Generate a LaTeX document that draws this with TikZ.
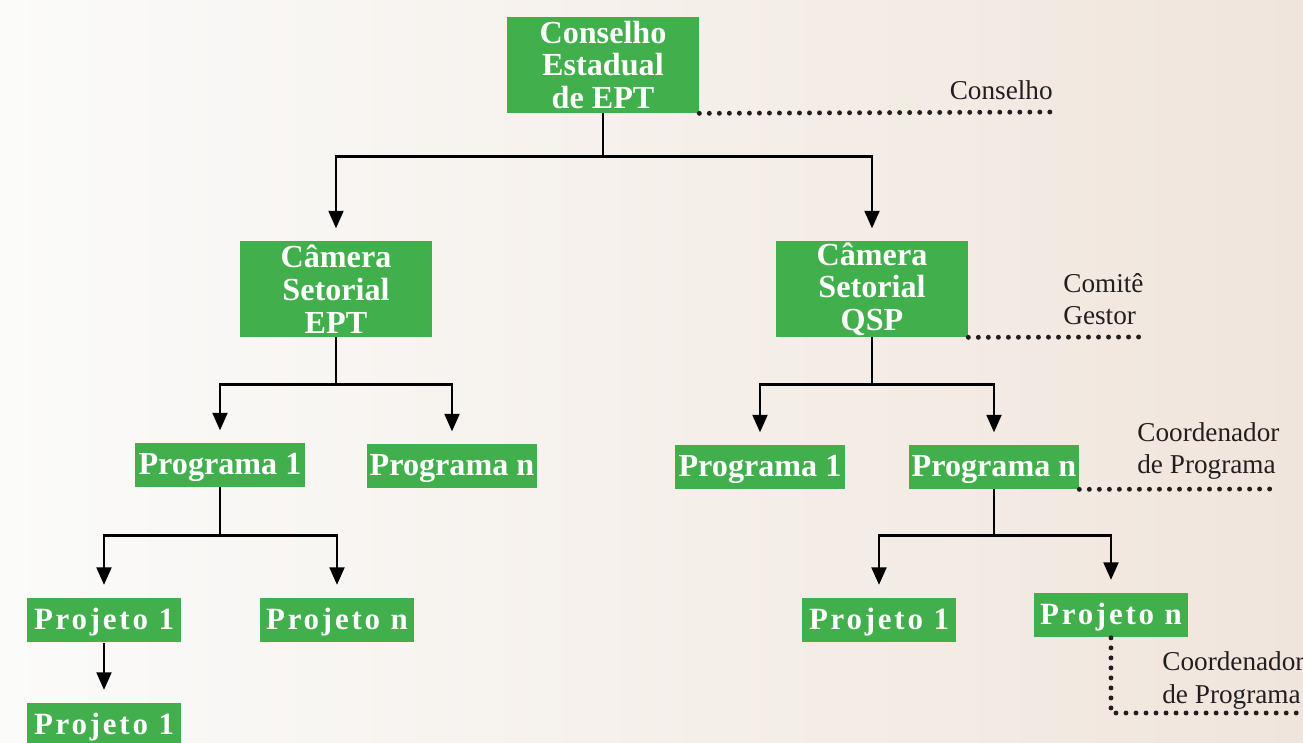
\documentclass[tikz,border=0pt]{standalone}
\usepackage{fontspec}
\setmainfont{Liberation Serif}
\newfontfamily\spacedfont[LetterSpace=9]{Liberation Serif}
\usetikzlibrary{arrows.meta,positioning}

\definecolor{boxgreen}{RGB}{65,175,75}
\definecolor{bgleft}{RGB}{251,251,250}
\definecolor{bgright}{RGB}{240,229,220}
\definecolor{notegray}{RGB}{35,31,32}

\tikzset{
  chamber/.style={fill=boxgreen, text=white, font=\fontsize{18.3}{18.6}\selectfont\bfseries,
    align=center, minimum width=3.84cm, minimum height=1.92cm, inner sep=0pt},
  prog/.style={fill=boxgreen, text=white, font=\fontsize{18.3}{18}\selectfont\bfseries,
    minimum width=3.4cm, minimum height=0.88cm, inner sep=0pt, text depth=1pt},
  proj/.style={prog, font=\spacedfont\fontsize{17.6}{18}\selectfont\bfseries,
    minimum width=3.1cm, minimum height=0.9cm},
  arr/.style={-{Triangle[length=10pt,width=8.5pt]}, line width=1.4pt, shorten >=7pt},
  stem/.style={line width=1.4pt},
  dots/.style={notegray, line width=2.8pt, line cap=round, dash pattern=on 0pt off 5.7pt},
  note/.style={font=\fontsize{15.5}{18.5}\selectfont, align=left, text=notegray, inner sep=0pt}
}

\begin{document}
\begin{tikzpicture}[x=0.02cm, y=-0.02cm]
  % background
  \shade[left color=bgleft, right color=bgright] (0,0) rectangle (1303,743);
  \useasboundingbox (0,0) rectangle (1303,743);
  \clip (0,0) rectangle (1303,743);

  % boxes
  \node[chamber] (ce) at (603,65) {Conselho\\Estadual\\de EPT};
  \node[chamber] (cept) at (336,289) {Câmera\\Setorial\\EPT};
  \node[chamber] (cqsp) at (872,289) {Câmera\\Setorial\\QSP};
  \node[prog] (ep1) at (220,465) {Programa 1};
  \node[prog] (epn) at (452,466) {Programa n};
  \node[prog] (qp1) at (760,467) {Programa 1};
  \node[prog] (qpn) at (994,467) {Programa n};
  \node[proj] (ej1) at (104,620) {Projeto 1};
  \node[proj] (ejn) at (337,620) {Projeto n};
  \node[proj] (ej1b) at (104,725) {Projeto 1};
  \node[proj] (qj1) at (879,620) {Projeto 1};
  \node[proj] (qjn) at (1111,615) {Projeto n};

  % tree connectors
  \draw[stem] (ce.south) -- ++(0,43) coordinate (jce);
  \foreach \c in {cept,cqsp} \draw[arr] (jce) -| (\c.north);
  \draw[stem] (cept.south) -- ++(0,47) coordinate (jcept);
  \foreach \c in {ep1,epn} \draw[arr] (jcept) -| (\c.north);
  \draw[stem] (cqsp.south) -- ++(0,47) coordinate (jcqsp);
  \foreach \c in {qp1,qpn} \draw[arr] (jcqsp) -| (\c.north);
  \draw[stem] (ep1.south) -- ++(0,48) coordinate (jep1);
  \foreach \c in {ej1,ejn} \draw[arr] (jep1) -| (\c.north);
  \draw[stem] (qpn.south) -- ++(0,46) coordinate (jqpn);
  \foreach \c in {qj1,qjn} \draw[arr] (jqpn) -| (\c.north);
  \draw[arr] (ej1) -- (ej1b);

  % dotted notes
  \coordinate (dce) at (1055,112);
  \coordinate (dgc) at (1143,337);
  \coordinate (dqp) at (1276,489);
  \coordinate (dqj) at (1320,713);
  \draw[dots] (ce.south east) -- (dce);
  \draw[dots] (cqsp.south east) -- (dgc);
  \draw[dots] (qpn.south east) -- (dqp);
  \draw[dots] (qjn.south) -- (qjn.south |- dqj) -- (dqj);
  \node[note, anchor=base east] (nce) at (1053,100) {Conselho};
  \node[note, anchor=base west] (ngc) at (1063,325) {Comitê\\Gestor};
  \node[note, anchor=base west] (nqp) at (1137,474) {Coordenador\\de Programa};
  \node[note, anchor=base west] (nqj) at (1162,703) {Coordenador\\de Programa};
\end{tikzpicture}
\end{document}
